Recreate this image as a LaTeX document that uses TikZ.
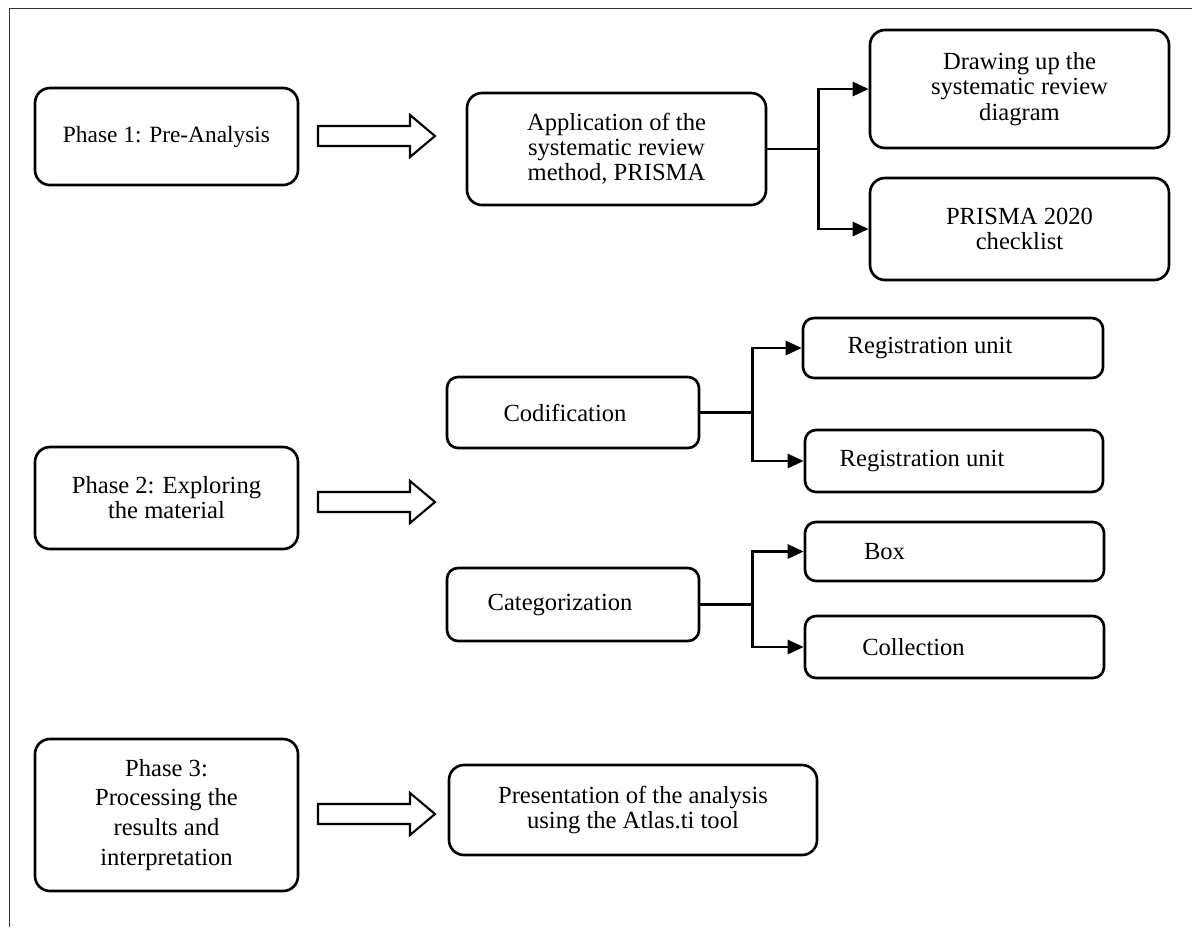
\documentclass[tikz,border=0pt]{standalone}
\usepackage{fontspec}
\setmainfont{Liberation Serif}
\usetikzlibrary{arrows.meta}
\tikzset{
    stage/.style 2 args={draw,line width=1.5pt,rounded corners=0.3cm,align=center,inner sep=2pt,
        minimum width=#1*0.02cm,minimum height=#2*0.02cm},
    item/.style 2 args={stage={#1}{#2},rounded corners=0.22cm},
}

\begin{document}
\begin{tikzpicture}[
                        x=0.02cm,y=-0.02cm,
                        font=\fontsize{14}{14.3}\selectfont,
                        barrow/.style={draw,line width=1.2pt,line join=miter},
                        link/.style={line width=1.6pt},
                        branch/.style={link,-{Triangle[length=0.32cm,width=0.28cm]}}
                        ]
                        \def\W{1192} % picture width
                        \def\H{927}  % picture height
                        \def\fx{9}   % frame left
                        \def\fy{8}   % frame top
                        \useasboundingbox (0,0) rectangle (\W,\H);

                        % frame
                        \draw[line width=0.5pt,black!80] (\fx,\H) -- (\fx,\fy) -- (\W,\fy);

                        % phases
                        \node[stage={263}{97},font=\fontsize{13.3}{14.3}\selectfont] (ph1) at (166.5,136.5) {Phase 1: Pre-Analysis};
                        \node[stage={263}{102}] (ph2) at (166.5,498) {Phase 2: Exploring\\the material};
                        \node[stage={263}{152},font=\fontsize{14}{17}\selectfont] (ph3) at (166.5,815)
                            {Phase 3:\\Processing the\\results and\\interpretation};

                        % block arrows
                        \foreach \y in {136,502,814} {
                            \draw[barrow] (318,\y-10) -- (410,\y-10) -- (410,\y-21) -- (435,\y)
                                -- (410,\y+21) -- (410,\y+10) -- (318,\y+10) -- cycle;
                        }

                        % phase 1
                        \node[stage={299}{112}] (prisma) at (616.5,149) {Application of the\\systematic review\\method, PRISMA};
                        \node[stage={299}{118}] (diagram) at (1019.5,89) {Drawing up the\\systematic review\\diagram};
                        \node[stage={299}{102}] (check) at (1019.5,229) {PRISMA 2020\\checklist};
                        \draw[link] (prisma.east) -- ++(51,0) coordinate (j1);
                        \draw[branch] (j1) |- (diagram.west);
                        \draw[branch] (j1) |- (check.west);

                        % phase 2
                        \node[item={252}{71},label={[xshift=-8*0.02cm]center:Codification}] (codif) at (573,412.5) {};
                        \node[item={252}{73},label={[xshift=-13*0.02cm]center:Categorization}] (categ) at (573,604.5) {};
                        \node[item={300}{60},label={[xshift=-23*0.02cm]center:Registration unit}] (unit1) at (953,348) {};
                        \node[item={298}{62},label={[xshift=-32*0.02cm]center:Registration unit}] (unit2) at (954,461) {};
                        \node[item={299}{59},label={[xshift=-70*0.02cm]center:Box}] (box) at (954.5,551.5) {};
                        \node[item={299}{62},label={[xshift=-41*0.02cm]center:Collection}] (coll) at (954.5,647) {};
                        \draw[link] (codif.east) -- ++(52,0) coordinate (j2);
                        \draw[branch] (j2) |- (unit1.west);
                        \draw[branch] (j2) |- (unit2.west);
                        \draw[link] (categ.east) -- ++(52,0) coordinate (j3);
                        \draw[branch] (j3) |- (box.west);
                        \draw[branch] (j3) |- (coll.west);

                        % phase 3
                        \node[stage={368}{90}] (atlas) at (633,810) {Presentation of the analysis\\using the Atlas.ti tool};
                    \end{tikzpicture}
\end{document}
